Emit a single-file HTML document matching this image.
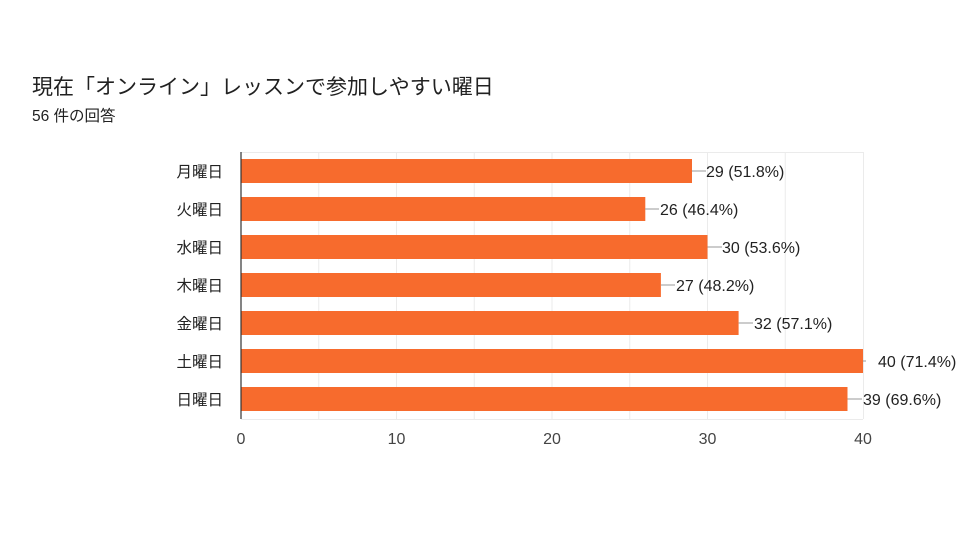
<!DOCTYPE html>
<html><head><meta charset="utf-8"><style>
body{margin:0;background:#fff;}
svg text{font-family:"Liberation Sans","Noto Sans CJK JP",sans-serif;}
</style></head><body>
<svg width="960" height="540" xmlns="http://www.w3.org/2000/svg">
<rect width="960" height="540" fill="#fff"/>
<text x="32" y="94" font-size="21" fill="#212121">現在「オンライン」レッスンで参加しやすい曜日</text>
<text x="32" y="121" font-size="15.5" fill="#212121">56 件の回答</text>
<g stroke="#ebebeb" stroke-width="1">
<line x1="241" y1="152.5" x2="863" y2="152.5"/>
<line x1="241" y1="419.5" x2="863" y2="419.5"/>
<line x1="318.75" y1="152" x2="318.75" y2="419"/>
<line x1="396.5" y1="152" x2="396.5" y2="419"/>
<line x1="474.25" y1="152" x2="474.25" y2="419"/>
<line x1="552" y1="152" x2="552" y2="419"/>
<line x1="629.75" y1="152" x2="629.75" y2="419"/>
<line x1="707.5" y1="152" x2="707.5" y2="419"/>
<line x1="785.25" y1="152" x2="785.25" y2="419"/>
<line x1="863.5" y1="152" x2="863.5" y2="419"/>
</g>
<g fill="#f76b2d">
<rect x="241" y="159" width="451" height="24"/>
<rect x="241" y="197" width="404.3" height="24"/>
<rect x="241" y="235" width="466.5" height="24"/>
<rect x="241" y="273" width="419.9" height="24"/>
<rect x="241" y="311" width="497.6" height="24"/>
<rect x="241" y="349" width="622" height="24"/>
<rect x="241" y="387" width="606.5" height="24"/>
</g>
<line x1="241" y1="152" x2="241" y2="419" stroke="#333" stroke-width="1.2"/>
<g stroke="#999" stroke-width="1">
<line x1="692" y1="171" x2="706" y2="171"/>
<line x1="645" y1="209" x2="659" y2="209"/>
<line x1="707.5" y1="247" x2="722" y2="247"/>
<line x1="661" y1="285" x2="675" y2="285"/>
<line x1="738.6" y1="323" x2="753" y2="323"/>
<line x1="863" y1="361" x2="866" y2="361"/>
<line x1="847.5" y1="399" x2="862" y2="399"/>
</g>
<g font-size="16" fill="#222">
<text x="706" y="177">29 (51.8%)</text>
<text x="660" y="215">26 (46.4%)</text>
<text x="722" y="253">30 (53.6%)</text>
<text x="676" y="291">27 (48.2%)</text>
<text x="754" y="329">32 (57.1%)</text>
<text x="878" y="367">40 (71.4%)</text>
<text x="863" y="405">39 (69.6%)</text>
</g>
<g font-size="15.5" fill="#222" text-anchor="end">
<text x="223" y="177">月曜日</text>
<text x="223" y="215">火曜日</text>
<text x="223" y="253">水曜日</text>
<text x="223" y="291">木曜日</text>
<text x="223" y="329">金曜日</text>
<text x="223" y="367">土曜日</text>
<text x="223" y="405">日曜日</text>
</g>
<g font-size="16" fill="#444" text-anchor="middle">
<text x="241" y="444">0</text>
<text x="396.5" y="444">10</text>
<text x="552" y="444">20</text>
<text x="707.5" y="444">30</text>
<text x="863" y="444">40</text>
</g>
</svg>
</body></html>
